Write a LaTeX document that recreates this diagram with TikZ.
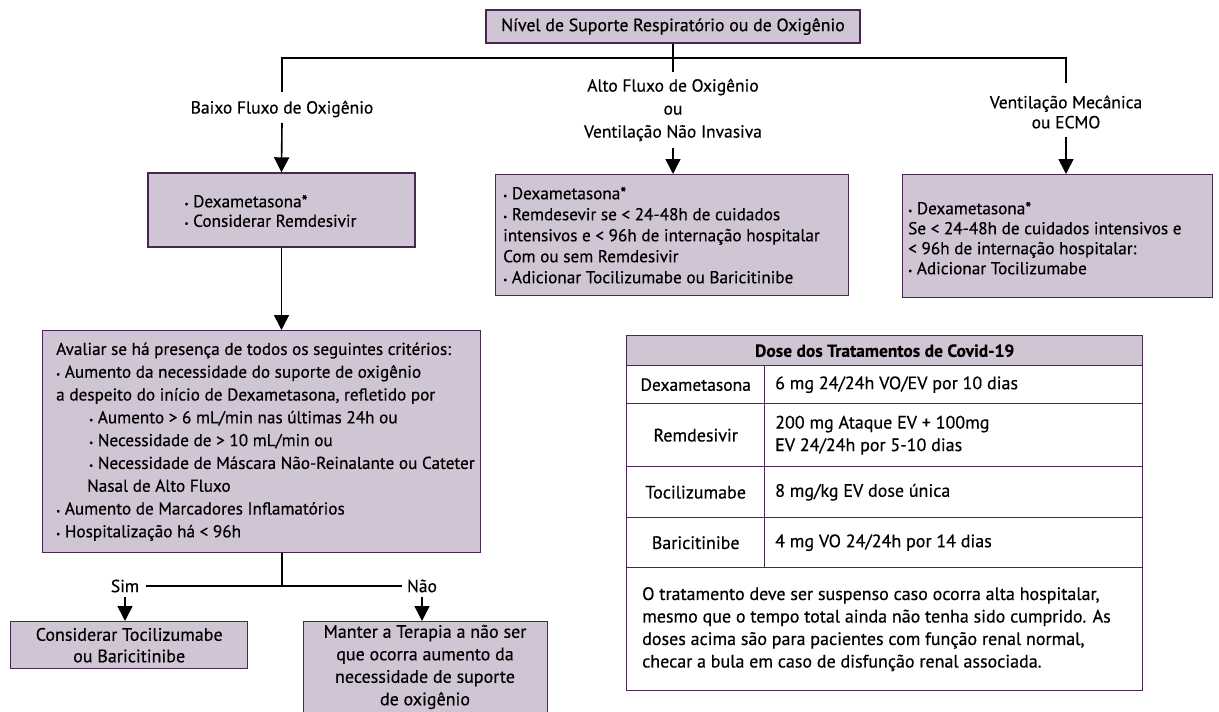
\documentclass[tikz,border=0pt]{standalone}
\usepackage{fontspec}
\setmainfont{PT Sans}[RawFeature={embolden=0.5}]
\usetikzlibrary{arrows.meta}
\definecolor{boxfill}{RGB}{208,197,212}
\definecolor{boxline}{RGB}{72,40,80}
\newcommand\bul{{\small\raisebox{0.1ex}{•}}\ }
\newcommand\txt{\fontsize{17.2}{21}\selectfont}
\newcommand\tabtxt{\fontsize{18}{22.5}\selectfont}
\tikzset{
  flowbox/.style={draw=boxline, fill=boxfill, line width=1.4pt, inner sep=0pt, font=\txt},
  boxtext/.style={inner sep=0pt, align=left, anchor=west, font=\txt},
  cell/.style={draw=boxline, line width=1.4pt, inner sep=0pt, anchor=north west, font=\tabtxt},
  celltext/.style={inner sep=0pt, align=left, anchor=west, font=\tabtxt},
  lbl/.style={inner sep=0pt, align=center, font=\fontsize{17.5}{21}\selectfont},
  conn/.style={line width=1.6pt},
  arr/.style={conn, -{Triangle[width=15pt,length=15pt]}}
}
\begin{document}
\begin{tikzpicture}[x=1pt,y=-1pt]
\useasboundingbox (0,0) rectangle (1219,712);
\clip (0,0) rectangle (1219,712);

% top level
\node[flowbox, minimum width=374pt, minimum height=33pt, font=\fontsize{17.8}{20}\selectfont] (lvl) at (673,26.5) {Nível de Suporte Respiratório ou de Oxigênio};

% branch labels
\node[lbl] (low) at (282,109) {Baixo Fluxo de Oxigênio};
\node[lbl, font=\fontsize{17.5}{23}\selectfont] (high) at (673,110) {Alto Fluxo de Oxigênio\\ou\\Ventilação Não Invasiva};
\node[lbl, font=\fontsize{17.5}{20}\selectfont] (mech) at (1066,112) {Ventilação Mecânica\\ou ECMO};

% treatment boxes
\node[flowbox, minimum width=267pt, minimum height=74pt] (b1) at (281.5,210) {};
\node[boxtext, font=\fontsize{17.2}{19.5}\selectfont] (b1t) at ([xshift=37pt,yshift=-1pt]b1.west) {\bul Dexametasona*\\\bul Considerar Remdesivir};
\node[flowbox, anchor=north west, minimum width=353pt, minimum height=121pt] (b2) at (495,174) {};
\node[boxtext] (b2t) at ([xshift=8pt]b2.west) {\bul Dexametasona*\\\bul Remdesevir se < 24-48h de cuidados\\intensivos e < 96h de internação hospitalar\\Com ou sem Remdesivir\\\bul Adicionar Tocilizumabe ou Baricitinibe};
\node[flowbox, anchor=north west, minimum width=310pt, minimum height=123pt] (b3) at (902,174) {};
\node[boxtext, font=\fontsize{17.2}{20}\selectfont] (b3t) at ([xshift=6pt,yshift=-2pt]b3.west) {\bul Dexametasona*\\Se < 24-48h de cuidados intensivos e\\< 96h de internação hospitalar:\\\bul Adicionar Tocilizumabe};

% criteria box
\node[flowbox, anchor=north west, minimum width=438pt, minimum height=222pt] (crit) at (42,330) {};
\node[boxtext, font=\fontsize{17.2}{22.8}\selectfont] (critt) at ([xshift=14pt]crit.west) {Avaliar se há presença de todos os seguintes critérios:\\
\bul Aumento da necessidade do suporte de oxigênio\\
a despeito do início de Dexametasona, refletido por\\
\hspace*{33pt}\bul Aumento > 6 mL/min nas últimas 24h ou\\
\hspace*{33pt}\bul Necessidade de > 10 mL/min ou\\
\hspace*{33pt}\bul Necessidade de Máscara Não-Reinalante ou Cateter\\
\hspace*{31pt}Nasal de Alto Fluxo\\
\bul Aumento de Marcadores Inflamatórios\\
\bul Hospitalização há < 96h};

% outcomes
\node[lbl] (sim) at (125,586) {Sim};
\node[lbl] (nao) at (422,586) {Não};
\node[flowbox, anchor=north west, minimum width=237pt, minimum height=47pt, align=center, font=\fontsize{18}{21.5}\selectfont] (yes) at (10,621) {Considerar Tocilizumabe\\ou Baricitinibe};
\node[flowbox, anchor=north west, minimum width=244pt, minimum height=100pt] (no) at (303,621) {};
\node[inner sep=0pt, align=center, font=\fontsize{18}{22.5}\selectfont] (not) at (425,667) {Manter a Terapia a não ser\\que ocorra aumento da\\necessidade de suporte\\de oxigênio};

% connectors
\coordinate (jl) at (282,58);
\coordinate (jr) at (1066,58);
\coordinate (mt) at (673,72);
\coordinate (lowtop) at (282,92);
\coordinate (lowbot) at (282,123);
\coordinate (hightop) at (673,148);
\coordinate (mechtop) at (1066,83);
\coordinate (mechbot) at (1066,137);
\coordinate (split) at (282,586);
\coordinate (simend) at (146,586);
\coordinate (naoend) at (402,586);
\coordinate (simbot) at (125,597);
\coordinate (naobot) at (422,597);

\draw[conn] (lvl.south) -- (mt);
\draw[conn] (lowtop) -- (jl) -- (jr) -- (mechtop);
\draw[arr] (lowbot) -- (b1.north);
\draw[arr] (hightop) -- (b2.north -| hightop);
\draw[arr] (mechbot) -- (b3.north -| mechbot);
\draw[arr] (b1.south) -- (crit.north -| b1.south);
\draw[conn] (crit.south -| split) -- (split);
\draw[conn] (simend) -- (naoend);
\draw[arr] (simbot) -- (yes.north -| simbot);
\draw[arr] (naobot) -- (no.north -| naobot);

% dose table
\node[cell, fill=boxfill, minimum width=516pt, minimum height=30pt, font=\fontsize{17.5}{22}\selectfont\bfseries] (th) at (626,335) {Dose dos Tratamentos de Covid-19};
\node[cell, minimum width=138pt, minimum height=38pt, font=\fontsize{17.5}{22}\selectfont] (d1) at (626,365) {Dexametasona};
\node[cell, minimum width=378pt, minimum height=38pt] (v1) at (764,365) {};
\node[celltext] (v1t) at ([xshift=11pt]v1.west) {6 mg 24/24h VO/EV por 10 dias};
\node[cell, minimum width=138pt, minimum height=63pt] (d2) at (626,403) {Remdesivir};
\node[cell, minimum width=378pt, minimum height=63pt] (v2) at (764,403) {};
\node[celltext] (v2t) at ([xshift=11pt]v2.west) {200 mg Ataque EV + 100mg\\EV 24/24h por 5-10 dias};
\node[cell, minimum width=138pt, minimum height=51pt] (d3) at (626,466) {Tocilizumabe};
\node[cell, minimum width=378pt, minimum height=51pt] (v3) at (764,466) {};
\node[celltext] (v3t) at ([xshift=11pt]v3.west) {8 mg/kg EV dose única};
\node[cell, minimum width=138pt, minimum height=50pt] (d4) at (626,517) {Baricitinibe};
\node[cell, minimum width=378pt, minimum height=50pt] (v4) at (764,517) {};
\node[celltext] (v4t) at ([xshift=11pt]v4.west) {4 mg VO 24/24h por 14 dias};
\node[cell, minimum width=516pt, minimum height=123pt] (note) at (626,567) {};
\node[celltext] (notet) at ([xshift=16pt]note.west) {O tratamento deve ser suspenso caso ocorra alta hospitalar,\\mesmo que o tempo total ainda não tenha sido cumprido. As\\doses acima são para pacientes com função renal normal,\\checar a bula em caso de disfunção renal associada.};
\end{tikzpicture}
\end{document}
